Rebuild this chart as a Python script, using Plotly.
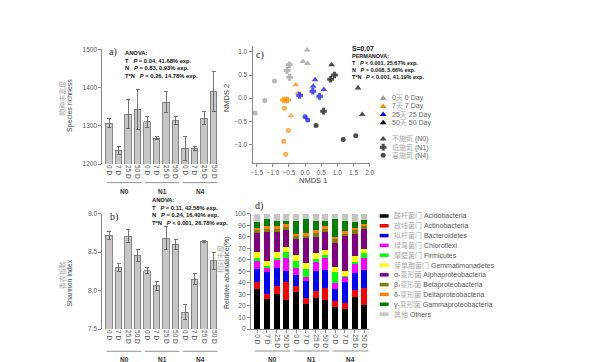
import plotly.graph_objects as go

W, H = 590, 362

# ---------------- data ----------------
day_labels = ["0 D", "7 D", "25 D", "50 D"]
n_groups = ["N0", "N1", "N4"]
sample_labels = day_labels * 3

richness = [1307, 1236, 1330, 1343, 1310, 1267, 1362, 1313, 1241, 1241, 1320, 1389]
richness_err = [12, 11, 38, 52, 14, 4, 27, 11, 32, 6, 17, 52]
shannon = [8.72, 8.30, 8.71, 8.46, 8.26, 8.06, 8.68, 8.60, 7.72, 8.15, 8.64, 8.39]
shannon_err = [0.05, 0.05, 0.08, 0.08, 0.04, 0.06, 0.15, 0.06, 0.10, 0.07, 0.01, 0.11]

acido = [34.5, 26, 30, 25, 32, 22, 27, 25, 19.5, 17.5, 27.5, 20.5]
actino = [6, 4, 7.5, 16, 5, 4.5, 6, 10.5, 4.5, 5.5, 6, 15.5]
bactero = [12, 19.5, 15.5, 9.5, 10, 15, 17, 16, 10.5, 18, 15.5, 15.5]
chloro = [7.5, 4, 7, 11.5, 6, 4, 8.5, 10.5, 5.5, 4.5, 8, 10.5]
firmi = [1.5, 1, 2, 5, 6, 6.5, 2, 2, 9.5, 0.5, 1, 4]
gemma = [5, 4.5, 5, 4.5, 5, 5, 5.5, 4.5, 4.5, 4.5, 5.5, 3.5]
alpha = [16.5, 25, 17, 14.5, 14, 22, 14, 16, 21, 30.5, 19, 17.5]
beta = [3.5, 3, 3, 3.5, 3, 2.5, 3, 2.5, 3, 2.5, 3, 2]
delta = [1.5, 2, 2, 1.5, 1.5, 1.5, 3, 2, 2, 1.5, 2, 2]
gamma = [5, 6, 4.5, 3, 11, 12, 8, 5, 15, 8.5, 5.5, 3.5]
others = [7, 5, 6.5, 6, 6.5, 5, 6, 6, 5, 6.5, 7, 5.5]

phyla_cn = ["酸杆菌门", "放线菌门", "拟杆菌门", "绿弯菌门", "厚壁菌门", "芽单胞菌门",
            "变形菌", "变形菌", "变形菌", "变形菌", "其他"]
phyla_prefix = ["", "", "", "", "", "", "α-", "β-", "δ-", "γ-", ""]
phyla_en = ["Acidobacteria", "Actinobacteria", "Bacteroidetes", "Chloroflexi", "Firmicutes",
            "Gemmatimonadetes", "Alphaproteobacteria", "Betaproteobacteria",
            "Deltaproteobacteria", "Gammaproteobacteria", "Others"]
phyla_values = [acido, actino, bactero, chloro, firmi, gemma, alpha, beta, delta, gamma, others]

# NMDS points per sampling day
nmds_d0_x = [0.06, -0.07, 0.08, -0.49, -0.56, -0.48, -0.95, -1.25, -1.55]
nmds_d0_y = [1.04, 0.79, 0.75, 0.72, 0.60, 0.45, 0.37, -0.05, -0.32]
nmds_d0_n = ["N0", "N0", "N0", "N1", "N1", "N1", "N4", "N4", "N4"]
nmds_d7_x = [-0.29, -0.22, -0.44, -0.68, -0.60, -0.54, -0.64, -0.52, -0.66, -0.60]
nmds_d7_y = [0.29, 0.11, -0.38, -0.04, -0.04, -0.04, -0.22, -0.70, -0.93, -1.21]
nmds_d7_n = ["N0", "N0", "N0", "N1", "N1", "N1", "N4", "N4", "N4", "N4"]
nmds_d25_x = [0.31, 0.25, 0.58, 0.24, 0.45, -0.17, 0.00, 0.08]
nmds_d25_y = [0.40, 0.26, 0.19, 0.15, 0.04, 0.06, -0.40, -0.47]
nmds_d25_n = ["N0", "N0", "N0", "N1", "N1", "N1", "N4", "N4"]
nmds_d50_x = [0.82, 1.64, 1.77, 0.91, 0.79, 0.57, 0.34, 1.18, 1.57]
nmds_d50_y = [0.72, 0.22, -0.35, 0.50, 0.41, -0.28, -0.59, -0.89, -0.81]
nmds_d50_n = ["N0", "N0", "N0", "N1", "N1", "N1", "N4", "N4", "N4"]

day_legend_cn = ["天", "天", "天", "天"]
day_legend_num = ["0", "7", "25", "50"]
day_legend_en = ["0 Day", "7 Day", "25 Day", "50 Day"]
n_legend_cn = ["不施氮", "低施氮", "高施氮"]

# ---------------- styles ----------------
FONT = "Liberation Sans, Arial, Noto Sans CJK SC, sans-serif"
SERIF = "Liberation Serif, Times New Roman, serif"
AX = "#8a8a8a"
TXT = "#444444"
CN = "#a8a8a8"
phyla_colors = ["#000000", "#ff0000", "#0000ff", "#ff00ff", "#00ff00", "#ffff00",
                "#800080", "#808000", "#ff8000", "#008000", "#c4c4c4"]
day_colors = ["#999999", "#ff8c00", "#0000ff", "#000000"]
n_symbols = {"N0": "triangle-up", "N1": "cross", "N4": "circle"}
n_sizes = {"N0": 6, "N1": 4.5, "N4": 5}
n_lines = {"N0": 0, "N1": 1.2, "N4": 0}


def fx(px):
    return px / W


def fy(py):
    return 1 - py / H


fig = go.Figure()
idx = list(range(len(sample_labels)))

# ---- a) richness ----
fig.add_trace(go.Bar(x=idx, y=richness, width=0.7, xaxis="x", yaxis="y",
                     marker=dict(color="#c6c6c6", line=dict(color="#6e6e6e", width=0.8)),
                     error_y=dict(type="data", array=richness_err, color="#555", thickness=0.8, width=2),
                     showlegend=False))
# ---- b) shannon ----
fig.add_trace(go.Bar(x=idx, y=shannon, width=0.7, xaxis="x2", yaxis="y2",
                     marker=dict(color="#c6c6c6", line=dict(color="#6e6e6e", width=0.8)),
                     error_y=dict(type="data", array=shannon_err, color="#555", thickness=0.8, width=2),
                     showlegend=False))

# ---- c) NMDS ----
nmds_sets = [(nmds_d0_x, nmds_d0_y, nmds_d0_n), (nmds_d7_x, nmds_d7_y, nmds_d7_n),
             (nmds_d25_x, nmds_d25_y, nmds_d25_n), (nmds_d50_x, nmds_d50_y, nmds_d50_n)]
for (xs, ys, ns), col in zip(nmds_sets, day_colors):
    fig.add_trace(go.Scatter(x=xs, y=ys, mode="markers", xaxis="x3", yaxis="y3",
                             marker=dict(color=col, symbol=[n_symbols[n] for n in ns],
                                         size=[n_sizes[n] for n in ns],
                                         line=dict(color=col, width=[n_lines[n] for n in ns])),
                             showlegend=False))

# ---- d) stacked composition ----
for vals, col in zip(phyla_values, phyla_colors):
    fig.add_trace(go.Bar(x=idx, y=vals, width=0.62, xaxis="x4", yaxis="y4",
                         marker=dict(color=col, line=dict(width=0)), showlegend=False))

# ---- custom legends (overlay axis in pixel units) ----
c_rows = [88, 96.3, 104.6, 113]
fig.add_trace(go.Scatter(x=[377] * 4, y=c_rows, mode="markers", xaxis="x5", yaxis="y5",
                         marker=dict(color=day_colors, symbol="triangle-up", size=6), showlegend=False,
                         hoverinfo="skip"))
n_rows = [129.5, 137.8, 146]
fig.add_trace(go.Scatter(x=[377] * 3, y=n_rows, mode="markers", xaxis="x5", yaxis="y5",
                         marker=dict(color="#000", symbol=[n_symbols[n] for n in n_groups],
                                     size=[n_sizes[n] for n in n_groups],
                                     line=dict(color="#000", width=[n_lines[n] for n in n_groups])),
                         showlegend=False, hoverinfo="skip"))
d_rows = [208 + 10 * i for i in range(len(phyla_en))]
for r, col in zip(d_rows, phyla_colors):
    fig.add_trace(go.Scatter(x=[373.5, 382.5], y=[r, r], mode="lines", xaxis="x5", yaxis="y5",
                             line=dict(color=col, width=3.5), showlegend=False, hoverinfo="skip"))

annotations = []


def ann(px, py, text, size=7, color=TXT, xanchor="left", yanchor="middle", angle=0, family=FONT, align="left"):
    annotations.append(dict(x=fx(px), y=fy(py), xref="paper", yref="paper", text=text, showarrow=False,
                            xanchor=xanchor, yanchor=yanchor, textangle=angle, align=align,
                            font=dict(size=size, color=color, family=family)))


for r, num, cn, en in zip(c_rows, day_legend_num, day_legend_cn, day_legend_en):
    ann(384, r, f"{num}<span style='color:{CN}'>{cn}</span> {en}", size=7, color="#666")
for r, cn, n in zip(n_rows, n_legend_cn, n_groups):
    ann(384, r, f"<span style='color:{CN}'>{cn}</span> ({n})", size=7, color="#666")
for r, cn, pre, en in zip(d_rows, phyla_cn, phyla_prefix, phyla_en):
    ann(386, r, f"{pre}<span style='color:{CN}'>{cn}</span> {en}", size=7, color="#555")

# panel letters
ann(104, 40.5, "a)", size=10, color="#222", xanchor="center", family=SERIF)
ann(105, 209, "b)", size=10, color="#222", xanchor="center", family=SERIF)
ann(253, 44, "c)", size=10, color="#222", xanchor="center", family=SERIF)
ann(252, 198, "d)", size=10, color="#222", xanchor="center", family=SERIF)

sp = "\u00a0\u00a0\u00a0"
ann(114, 37, "<b>ANOVA:<br>T" + sp + "<i>P</i> = 0.04, 41.68% exp.<br>N" + sp + "<i>P</i> = 0.83, 0.93% exp.<br>"
    "T*N" + sp + "<i>P</i> = 0.26, 14.78% exp.</b>", size=5.8, color="#111", yanchor="top")
ann(141, 186.5, "<b>ANOVA:<br>T" + sp + "<i>P</i> = 0.11, 42.58% exp.<br>N" + sp + "<i>P</i> = 0.24, 16.40% exp.<br>"
    "T*N" + sp + "<i>P</i> &lt; 0.001, 26.78% exp.</b>", size=5.8, color="#111", yanchor="top")
ann(343, 37, "<b>S=0.07</b>", size=6.8, color="#111")
ann(343, 39.5, "<b>PERMANOVA:<br>T" + sp + "<i>P</i> &lt; 0.001, 25.67% exp.<br>N" + sp + "<i>P</i> = 0.008, 5.66% exp.<br>"
    "T*N" + sp + "<i>P</i> &lt; 0.001, 41.19% exp.</b>", size=5.5, color="#111", yanchor="top")

# axis titles (rotated)
ROT_SHIFT = -7
ann(60 + ROT_SHIFT, 88, "物种丰富度", size=7, color=CN, xanchor="center", angle=-90)
ann(67.5 + ROT_SHIFT, 95, "Species richness", size=7, color=TXT, xanchor="center", angle=-90)
ann(60 + ROT_SHIFT, 268, "香农指数", size=7, color=CN, xanchor="center", angle=-90)
ann(67.5 + ROT_SHIFT, 276, "Shannon index", size=7, color=TXT, xanchor="center", angle=-90)
ann(219 + ROT_SHIFT, 252, "相对丰度", size=7, color=CN, xanchor="center", angle=-90)
ann(226.5 + ROT_SHIFT, 266, "Relative abundance(%)", size=7, color=TXT, xanchor="center", angle=-90)
ann(226 + ROT_SHIFT, 88, "NMDS 2", size=7.5, color=TXT, xanchor="center", angle=-90)
ann(306, 172, "NMDS 1", size=7.5, color=TXT, xanchor="center")

shapes = []
# group brackets and labels
for axis, line_py, lab_py in [("x", 174, 183.5), ("x2", 346, 354.5), ("x4", 345.7, 354.5)]:
    for gi, g in enumerate(n_groups):
        i0, i1 = gi * len(day_labels), gi * len(day_labels) + len(day_labels) - 1
        shapes.append(dict(type="line", xref=axis, yref="paper", x0=i0 - 0.25, x1=i1 + 0.4,
                           y0=fy(line_py), y1=fy(line_py), line=dict(color="#777", width=0.8)))
        annotations.append(dict(x=(i0 + i1) / 2 + 0.1, y=fy(lab_py), xref=axis, yref="paper", text=f"<b>{g}</b>",
                                showarrow=False, xanchor="center", yanchor="middle",
                                font=dict(size=6.5, color="#333", family=FONT)))

yax_common = dict(showline=True, linecolor=AX, linewidth=1, ticks="outside", ticklen=3, tickcolor=AX,
                  tickwidth=1, showgrid=False, zeroline=False, tickfont=dict(size=6.5, color="#555", family=FONT))
xbar_common = dict(tickvals=idx, ticktext=sample_labels, tickangle=90, showgrid=False, zeroline=False,
                   tickfont=dict(size=6.5, color="#444", family=FONT))

fig.update_layout(
    width=W, height=H, margin=dict(l=0, r=0, t=0, b=0),
    paper_bgcolor="white", plot_bgcolor="rgba(0,0,0,0)",
    barmode="stack", bargap=0.3,
    font=dict(family=FONT),
    xaxis=dict(domain=[fx(93.3), fx(211)], range=[-0.7, 11.55], anchor="y", showline=False, ticks="", **xbar_common),
    yaxis=dict(domain=[fy(155), fy(38)], range=[1200, 1500], dtick=100, anchor="x", **yax_common),
    xaxis2=dict(domain=[fx(93.3), fx(211)], range=[-0.7, 11.55], anchor="y2", showline=False, ticks="", **xbar_common),
    yaxis2=dict(domain=[fy(323.3), fy(205.7)], range=[7.5, 9.0], dtick=0.5, tickformat=".1f", anchor="x2", **yax_common),
    xaxis3=dict(domain=[fx(245), fx(364)], range=[-1.63, 2.02], dtick=0.5, tick0=0, tickformat=".1f", anchor="y3",
                **yax_common),
    yaxis3=dict(domain=[fy(154), fy(35)], range=[-1.40, 1.12], dtick=0.5, tick0=0, tickformat=".1f", anchor="x3",
                **yax_common),
    xaxis4=dict(domain=[fx(243.3), fx(363)], range=[-0.65, 11.5], anchor="y4", showline=True, linecolor=AX,
                ticks="outside", ticklen=3, tickcolor=AX, **xbar_common),
    yaxis4=dict(domain=[fy(323.3), fy(205.7)], range=[0, 100], dtick=10, anchor="x4", **yax_common),
    xaxis5=dict(domain=[0, 1], range=[0, W], visible=False, anchor="y5", fixedrange=True),
    yaxis5=dict(domain=[0, 1], range=[H, 0], visible=False, anchor="x5", fixedrange=True),
    annotations=annotations, shapes=shapes,
)

fig.write_html("out.html")
